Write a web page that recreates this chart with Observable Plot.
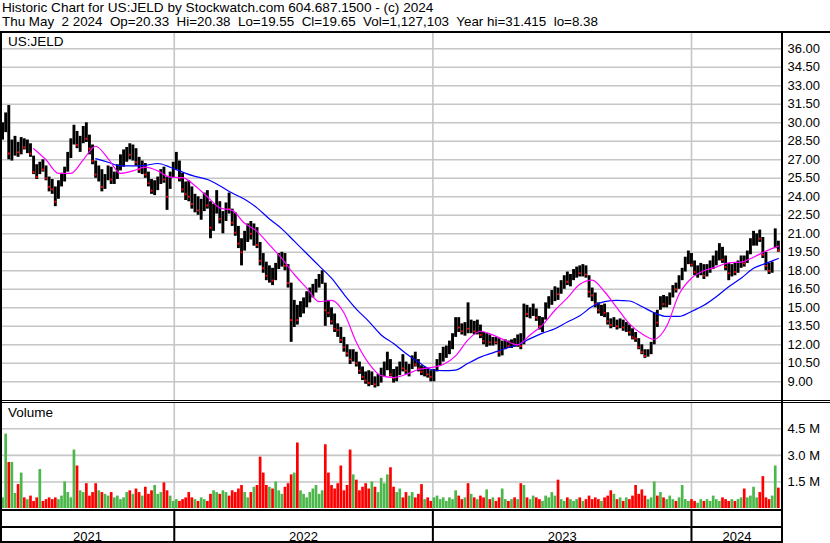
<!DOCTYPE html>
<html><head><meta charset="utf-8">
<script src="https://cdn.jsdelivr.net/npm/d3@7"></script>
<script src="https://cdn.jsdelivr.net/npm/@observablehq/plot@0.6"></script>
<style>
html,body{margin:0;padding:0;background:#fff;}
#wrap{position:relative;width:830px;height:543px;overflow:hidden;font-family:"Liberation Sans",Arial,sans-serif;color:#000;background:#fff;}
.abs{position:absolute;}
.hdr{left:2px;line-height:13px;white-space:pre;}
.blk{position:absolute;background:#000;}
.lbl{position:absolute;font-size:13.5px;line-height:13.5px;white-space:pre;}
svg{display:block;}
</style></head><body>
<div id="wrap">
 <div class="abs hdr" style="top:1px;font-size:13.6px">Historic Chart for US:JELD by Stockwatch.com 604.687.1500 - (c) 2024</div>
 <div class="abs hdr" style="top:15px;font-size:13.4px">Thu May  2 2024  Op=20.33  Hi=20.38  Lo=19.55  Cl=19.65  Vol=1,127,103  Year hi=31.415  lo=8.38</div>
 <div class="blk" style="left:0;top:31px;width:830px;height:2px"></div>
 <div id="price" class="abs" style="left:0;top:33px"></div>
 <div class="blk" style="left:0;top:400px;width:830px;height:1px"></div>
 <div class="blk" style="left:0;top:402px;width:830px;height:1px"></div>
 <div id="vol" class="abs" style="left:0;top:403px"></div>
 <div class="blk" style="left:0;top:508.5px;width:783px;height:2px"></div>
 <div id="years" class="abs" style="left:0;top:511px"></div>
 <div class="blk" style="left:0;top:526px;width:783px;height:2px"></div>
 <div class="blk" style="left:0;top:541px;width:783px;height:1.5px"></div>
 <div class="blk" style="left:0;top:31px;width:2px;height:512px"></div>
 <div class="blk" style="left:781px;top:31px;width:2px;height:512px"></div>
 <div class="lbl" style="left:8px;top:35.3px">US:JELD</div>
 <div class="lbl" style="left:8px;top:406.3px">Volume</div>
</div>
<script>
// ---- data (sampled every 3 trading days, starting at trading-day index 2) ----
const firstDay = 2, step = 3, lastDay = 756;
const years = ["2021", "2022", "2023", "2024"];
const yearStart = [0, 168, 418, 668];          // trading-day index where each year begins
const priceTicks = [9,10.5,12,13.5,15,16.5,18,19.5,21,22.5,24,25.5,27,28.5,30,31.5,33,34.5,36];
const volTicks = [1.5, 3.0, 4.5];

const hi = [
30.0,30.8,31.4,28.6,28.9,28.4,28.8,28.7,28.6,28.3,
27.3,26.6,26.8,27.0,26.5,25.6,25.4,24.8,25.3,25.9,
26.4,27.6,28.7,29.8,29.3,28.9,29.7,30.0,29.0,28.2,
26.9,26.5,26.2,25.8,26.5,26.4,26.0,26.6,27.4,27.8,
28.0,28.3,28.2,27.9,27.2,26.9,26.7,26.0,25.4,25.3,
25.6,26.2,26.4,25.6,26.0,26.8,27.6,26.9,25.9,25.2,
25.3,24.8,24.2,24.0,23.8,24.3,24.5,23.6,23.4,24.5,
23.6,22.8,23.5,24.3,23.0,22.7,21.6,20.6,21.2,21.8,
22.0,21.8,21.5,20.3,19.4,18.7,18.4,18.2,18.6,19.4,
19.5,19.4,18.5,17.0,15.6,15.2,15.5,15.8,16.3,16.6,
16.9,17.3,17.7,18.0,17.0,15.6,15.0,14.5,13.7,13.4,
12.6,12.0,11.6,11.6,11.4,10.6,10.2,9.8,9.9,9.8,
9.4,9.6,10.1,10.6,11.4,10.8,10.0,10.2,10.6,11.2,
10.6,10.4,11.1,11.4,10.8,10.3,10.2,10.1,9.9,10.0,
10.8,11.3,11.8,11.9,12.3,12.9,14.2,14.2,13.7,13.8,
15.4,14.0,13.9,14.0,13.6,13.0,12.9,12.8,12.6,12.6,
12.5,12.3,12.4,12.3,12.4,12.5,12.8,12.9,15.3,15.2,
15.0,15.3,14.9,14.3,14.2,15.4,15.9,16.4,16.7,16.6,
17.2,17.6,17.9,17.7,18.1,18.3,18.4,18.5,18.4,17.6,
16.6,16.2,15.4,15.2,15.3,14.6,14.1,14.2,14.0,14.1,
14.0,13.8,13.6,13.3,13.0,12.5,12.0,11.6,11.6,12.2,
14.6,14.8,15.9,16.0,15.9,16.2,16.8,17.0,17.6,18.2,
19.1,19.6,19.4,18.8,18.4,18.6,18.5,18.5,18.8,19.2,
19.6,20.2,19.9,19.2,18.6,18.5,18.6,18.8,19.2,19.2,
19.6,20.6,21.2,21.0,21.3,20.7,19.5,18.6,18.7,21.4,20.4];
const lo = [
28.6,29.2,27.0,26.9,27.3,27.2,27.4,27.8,27.5,27.2,
25.8,25.4,25.8,26.0,25.3,24.4,24.2,23.2,23.8,24.8,
25.2,26.0,27.1,28.2,27.9,27.6,28.3,28.4,27.4,26.6,
25.5,25.2,24.4,24.6,25.3,25.0,25.0,25.4,26.1,26.4,
26.8,27.0,26.9,26.5,25.9,25.8,25.5,24.8,24.2,24.1,
24.5,25.0,25.1,22.9,24.6,25.5,26.2,25.2,24.3,23.7,
23.6,23.0,22.7,22.5,22.1,22.8,23.0,20.6,21.2,22.6,
21.8,21.0,22.0,22.6,21.6,20.8,19.8,18.4,19.6,20.3,
20.5,20.0,19.8,18.4,17.8,17.2,17.0,16.8,17.2,18.1,
18.3,18.0,16.6,12.2,13.4,13.6,14.2,14.5,15.0,15.4,
15.8,16.2,16.6,16.9,13.5,14.2,13.6,13.0,12.6,12.1,
11.4,11.0,10.4,10.6,10.2,9.6,9.1,8.8,8.6,8.7,
8.5,8.6,8.9,9.4,9.9,9.4,8.9,9.0,9.5,9.8,
9.6,9.4,10.0,10.2,9.8,9.5,9.4,9.3,9.0,9.0,
9.8,10.3,10.6,10.9,11.2,11.6,12.6,13.0,12.8,12.7,
12.9,12.9,12.8,12.8,12.5,12.0,11.8,11.9,11.9,12.0,
11.0,11.1,11.6,11.7,11.7,11.8,11.8,11.6,12.0,14.2,
14.1,14.3,13.9,13.2,13.0,14.0,14.9,15.2,15.5,15.6,
16.1,16.5,16.8,16.7,17.2,17.4,17.5,17.5,17.4,15.8,
15.5,15.0,14.5,14.3,14.2,13.6,13.3,13.4,13.2,13.3,
13.1,13.0,12.7,12.4,12.2,11.6,11.2,10.9,11.0,11.2,
12.0,13.4,14.8,15.0,15.0,15.2,15.8,16.2,16.5,17.2,
17.9,18.5,18.3,17.6,17.4,17.6,17.3,17.5,17.8,18.1,
18.4,18.8,18.6,18.0,17.2,17.5,17.6,17.8,18.2,18.3,
18.6,19.3,20.0,20.0,20.3,19.0,18.0,17.7,17.8,19.8,19.5];
const close = [
29.4,30.5,27.5,27.6,28.3,27.6,28.5,28.0,28.2,27.5,
26.0,25.6,26.5,26.2,25.5,24.8,24.6,23.6,25.0,25.5,
26.2,27.3,28.4,29.2,28.2,28.6,29.4,28.7,27.9,26.9,
25.8,26.0,24.8,25.5,26.2,25.4,25.7,26.3,27.0,27.5,
27.6,27.4,27.8,26.8,26.2,26.5,25.8,25.1,24.5,24.9,
25.3,25.8,25.4,24.0,25.7,26.4,26.8,25.5,24.6,24.2,
24.0,23.4,23.8,22.9,23.5,24.0,23.3,21.5,23.0,23.6,
22.2,22.4,23.2,23.0,21.9,21.1,20.2,19.5,20.8,21.4,
21.0,21.2,20.1,18.8,18.2,17.6,17.8,17.2,18.3,19.0,
19.2,18.4,17.0,14.0,14.6,14.0,15.1,15.6,15.9,16.4,
16.6,17.0,17.4,17.8,14.8,14.6,13.9,13.3,13.2,12.4,
11.8,11.3,10.8,11.3,10.5,9.9,9.4,9.1,8.9,9.5,
8.8,9.3,9.8,10.2,10.5,9.6,9.3,9.9,10.3,10.1,
9.9,10.2,10.8,10.4,10.1,9.8,9.9,9.6,9.4,9.7,
10.5,11.0,11.2,11.6,11.8,12.6,13.8,13.4,13.1,13.5,
13.3,13.6,13.1,13.7,12.8,12.3,12.6,12.2,12.3,12.2,
11.4,11.9,12.1,11.9,12.2,12.0,12.6,11.9,14.8,14.5,
14.7,15.0,14.2,13.5,13.9,15.1,15.6,15.8,16.4,16.1,
16.9,17.3,17.1,17.5,17.8,18.0,17.8,18.2,17.7,16.3,
16.0,15.3,14.8,14.9,14.6,13.9,13.6,13.9,13.5,13.8,
13.4,13.6,13.0,12.6,12.5,11.8,11.4,11.1,11.4,12.0,
14.2,13.8,15.6,15.3,15.6,15.9,16.6,16.5,17.3,18.0,
18.8,19.2,18.5,17.9,18.1,18.3,17.6,18.2,18.5,18.9,
19.2,19.7,18.9,18.3,17.8,18.2,17.9,18.5,18.9,18.6,
19.4,20.3,20.6,20.8,20.6,19.3,18.4,18.0,18.4,21.0,19.65];
const volume = [ // millions of shares
0.6,4.2,2.6,2.6,0.85,1.35,2.0,0.6,0.5,0.7,
0.4,0.6,2.2,0.4,0.5,0.6,0.5,0.6,0.5,0.7,
1.5,0.9,0.6,3.3,2.4,1.0,0.9,1.4,0.7,0.9,
1.4,1.0,0.9,0.8,0.7,0.9,0.6,0.7,0.5,0.6,
0.9,1.0,0.8,1.1,0.9,0.7,1.2,0.8,1.0,1.3,
0.8,0.9,1.45,1.0,0.7,0.4,0.5,0.4,0.5,0.6,
0.9,0.6,0.5,0.4,0.6,0.5,0.4,0.8,1.0,0.9,
0.8,1.0,0.9,0.7,1.0,0.9,1.1,1.3,0.9,0.6,
0.9,1.2,1.3,2.9,2.0,1.3,1.2,1.1,1.5,1.0,
0.8,1.2,1.4,1.9,2.0,3.7,1.0,0.8,0.6,0.9,
1.1,1.3,0.8,1.0,3.6,2.0,1.3,1.1,1.4,2.4,
1.0,1.3,3.3,1.9,1.6,1.0,1.2,1.4,1.1,1.5,
1.2,0.9,1.7,1.4,1.9,2.3,1.2,0.9,1.1,0.6,
0.9,0.7,0.9,0.6,0.8,1.35,0.5,0.6,0.4,0.6,
0.7,0.5,0.6,0.4,0.6,0.5,1.0,0.7,0.5,0.6,
1.4,0.8,0.6,0.5,0.7,0.6,1.05,0.5,0.6,0.4,
0.6,1.1,0.5,0.4,0.5,0.6,0.5,1.4,1.3,0.6,
0.5,0.7,0.6,0.5,0.4,0.7,0.6,0.9,0.7,1.6,
0.5,0.4,0.6,0.5,0.4,0.5,0.6,0.4,0.5,0.7,
0.5,0.6,0.5,0.4,0.6,0.7,1.0,0.8,0.5,0.6,
0.4,0.6,0.5,0.7,1.3,0.8,1.05,0.7,0.5,0.6,
1.5,0.7,0.9,0.6,0.5,0.7,0.5,0.4,0.6,1.3,
0.5,0.4,0.5,0.4,0.3,0.5,0.4,0.5,0.4,0.7,
0.5,0.4,0.6,0.5,0.4,0.5,0.4,0.5,0.6,1.1,
0.6,0.7,1.2,0.6,0.9,1.8,0.6,0.5,0.7,2.4,1.15];
// moving averages, every 4th sample
const maFastStart = 10, maSlowStart = 30, maStep = 4;
const maFast = [27.9,27.0,25.9,25.9,27.0,28.1,27.1,25.9,26.1,26.4,26.1,25.6,25.55,24.9,24.0,23.1,22.9,21.85,21.2,20.1,
19.0,17.7,16.6,15.5,15.6,14.6,12.2,10.5,9.5,9.35,9.6,10.0,10.15,10.4,11.1,12.4,13.1,12.8,12.35,12.0,
12.8,13.6,14.8,15.8,16.9,17.25,16.3,15.0,13.7,12.9,12.45,13.5,16.1,17.4,18.0,18.3,18.65,18.7,19.1,19.6,20.0];
const maSlow = [27.1,26.8,26.5,26.5,26.55,26.7,26.4,26.0,25.65,25.4,24.9,24.3,23.8,23.1,22.2,21.4,20.4,19.4,18.4,17.4,
16.1,14.9,13.9,12.8,12.1,11.3,10.6,10.0,9.9,9.95,10.5,11.0,11.35,11.7,12.0,12.5,12.95,13.3,13.85,14.35,
15.1,15.5,15.6,15.55,15.1,14.6,14.3,14.3,14.7,15.2,15.9,16.7,17.4,18.2,18.6,19.0];

// ---- derived tables ----
const bars = hi.map((h, k) => ({
  day: firstDay + step * k, hi: h, lo: lo[k], close: close[k], vol: volume[k],
  down: k > 0 && close[k] < close[k - 1]
}));
const fast = maFast.map((v, j) => ({day: firstDay + step * (maFastStart + maStep * j), v}));
const slow = maSlow.map((v, j) => ({day: firstDay + step * (maSlowStart + maStep * j), v}));
const yearMid = years.map((y, i) => ({year: y, day: (yearStart[i] + (i + 1 < yearStart.length ? yearStart[i + 1] : lastDay)) / 2}));

const GRID = "#c6c6c6", RED = "#ff0000", GREEN = "#4cb84c";
const font = {background: "transparent", color: "#000", fontFamily: "'Liberation Sans', Arial, sans-serif", fontSize: "13px", overflow: "visible"};
const xScale = {domain: [0, lastDay], axis: null};

const price = Plot.plot({
  width: 830, height: 367, marginLeft: 0, marginRight: 48, marginTop: 0, marginBottom: 0,
  x: xScale,
  y: {domain: [7.484, 37.24], axis: null},
  style: font,
  marks: [
    Plot.ruleY(priceTicks, {stroke: GRID, strokeWidth: 1.6}),
    Plot.ruleX(yearStart.slice(1), {stroke: GRID, strokeWidth: 1.6}),
    Plot.ruleX(bars, {x: "day", y1: "lo", y2: "hi", stroke: "#000", strokeWidth: 2.9}),
    Plot.dot(bars.filter(d => d.down), {x: "day", y: "close", r: 1.1, fill: RED, stroke: null}),
    Plot.line(slow, {x: "day", y: "v", stroke: "#0000ff", strokeWidth: 1.2, curve: "monotone-x"}),
    Plot.line(fast, {x: "day", y: "v", stroke: "#ff00ff", strokeWidth: 1.2, curve: "monotone-x"}),
    Plot.axisY(priceTicks, {anchor: "right", tickSize: 0, tickPadding: 5, tickFormat: d => d.toFixed(2), fontSize: 13, label: null})
  ]
});
document.getElementById("price").appendChild(price);

const vol = Plot.plot({
  width: 830, height: 106, marginLeft: 0, marginRight: 48, marginTop: 0, marginBottom: 0,
  x: xScale,
  y: {domain: [-0.056, 5.929], axis: null},
  style: font,
  marks: [
    Plot.ruleY(volTicks, {stroke: GRID, strokeWidth: 1.6}),
    Plot.ruleX(yearStart.slice(1), {stroke: GRID, strokeWidth: 1.6}),
    Plot.ruleX(bars, {x: "day", y1: 0, y2: "vol", stroke: d => d.down ? RED : GREEN, strokeWidth: 2.7}),
    Plot.axisY(volTicks, {anchor: "right", tickSize: 0, tickPadding: 5, tickFormat: d => d.toFixed(1) + " M", fontSize: 13, label: null})
  ]
});
document.getElementById("vol").appendChild(vol);

const yr = Plot.plot({
  width: 830, height: 30, marginLeft: 0, marginRight: 48, marginTop: 0, marginBottom: 0,
  x: xScale,
  style: font,
  marks: [
    Plot.ruleX(yearStart.slice(1), {stroke: "#000", strokeWidth: 2}),
    Plot.text(yearMid, {x: "day", text: "year", frameAnchor: "bottom", lineAnchor: "bottom", dy: -1, fontSize: 13, fill: "#000"})
  ]
});
document.getElementById("years").appendChild(yr);
</script>
</body></html>
